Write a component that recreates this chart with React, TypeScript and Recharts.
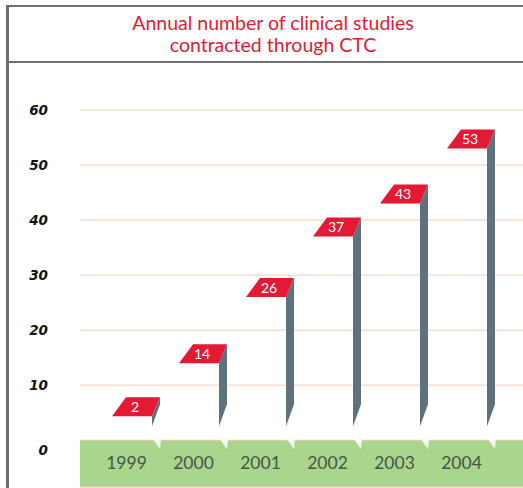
import React from 'react';
import { BarChart, Bar, XAxis, YAxis, CartesianGrid } from 'recharts';

const years = ['1999', '2000', '2001', '2002', '2003', '2004'];
const studies = [2, 14, 26, 37, 43, 53];
const yTicks = [0, 10, 20, 30, 40, 50, 60];

const data = years.map((year, i) => ({ year, studies: studies[i] }));

const RED = '#e21a33';
const POST = '#5e717d';
const GREEN = '#a9d58d';
const FLAG_H = 19;
const POST_W = 8;

// stripes between grid lines; only the band under zero is filled
const stripeFills = yTicks.map((_, i) => (i === yTicks.length - 1 ? GREEN : 'transparent'));

function FlagBar(props: any) {
  const { x, y, width, height, payload } = props;
  const base = y + height;
  const pr = x + width;
  const pl = pr - POST_W;
  // short bars keep their flag above the post stub
  const fb = Math.min(y, base - 24);
  const ft = fb - FLAG_H;
  const postRightBottom = Math.max(ft, base - 36);
  return (
    <g>
      <polygon
        points={`${pl},${fb} ${pr},${ft} ${pr},${postRightBottom} ${pl},${base - 14}`}
        fill={POST}
      />
      <polygon
        points={`${pr - 34},${ft} ${pr},${ft} ${pl},${fb} ${pr - 48},${fb}`}
        fill={RED}
      />
      <text
        x={pr - 25}
        y={fb - 4.5}
        fill="#fff"
        fontSize={14}
        fontFamily="Lato, sans-serif"
        textAnchor="middle"
      >
        {payload.studies}
      </text>
      <polygon
        points={`${pr - 7},${base - 1} ${pr + 1},${base - 1} ${pr},${base + 9}`}
        fill="#fff"
        fillOpacity={0.85}
      />
    </g>
  );
}

function YTick(props: any) {
  const { x, y, payload } = props;
  const dy = payload.value === 0 ? 15 : 5;
  return (
    <text
      x={x}
      y={y + dy}
      textAnchor="end"
      fontSize={13.5}
      fontWeight="bold"
      fontStyle="italic"
      fontFamily="DejaVu Sans, sans-serif"
      fill="#111"
    >
      {payload.value}
    </text>
  );
}

function XTick(props: any) {
  const { x, y, payload } = props;
  return (
    <text
      x={x}
      y={y - 18}
      textAnchor="middle"
      fontSize={17.5}
      fontFamily="Lato, sans-serif"
      fill="#485647"
    >
      {payload.value}
    </text>
  );
}

export default function App() {
  return (
    <div
      style={{
        position: 'absolute',
        left: 0,
        top: 0,
        width: 523,
        height: 488,
        overflow: 'hidden',
        background: '#fff',
      }}
    >
      <BarChart
        width={523}
        height={488}
        data={data}
        margin={{ top: 110, right: 0, bottom: 0, left: 0 }}
        barCategoryGap={0}
      >
        <CartesianGrid
          vertical={false}
          stroke="#f4cbb9"
          horizontalFill={stripeFills}
          fillOpacity={1}
        />
        <XAxis
          dataKey="year"
          height={1}
          axisLine={false}
          tickLine={false}
          tickSize={0}
          tickMargin={0}
          padding={{ left: 13, right: 28 }}
          tick={<XTick />}
          interval={0}
        />
        <YAxis
          type="number"
          width={80}
          domain={[-8.5, 60]}
          ticks={yTicks}
          axisLine={false}
          tickLine={false}
          tickSize={0}
          tickMargin={32}
          tick={<YTick />}
          allowDataOverflow
        />
        <Bar dataKey="studies" shape={<FlagBar />} isAnimationActive={false} />
      </BarChart>
      <div
        style={{
          position: 'absolute',
          left: 6,
          top: 5,
          width: 600,
          height: 600,
          borderLeft: '3px solid #6e6e6e',
          borderTop: '2px solid #6e6e6e',
          pointerEvents: 'none',
        }}
      />
      <div
        style={{
          position: 'absolute',
          left: 9,
          top: 7,
          width: 520,
          height: 56,
          borderBottom: '2px solid #6e6e6e',
          background: '#fff',
          color: RED,
          fontFamily: 'Lato, sans-serif',
          fontSize: 19.5,
          lineHeight: '22px',
          textAlign: 'center',
          paddingTop: 5,
          boxSizing: 'border-box',
          paddingLeft: 8,
        }}
      >
        Annual number of clinical studies
        <br />
        contracted through CTC
      </div>
    </div>
  );
}
